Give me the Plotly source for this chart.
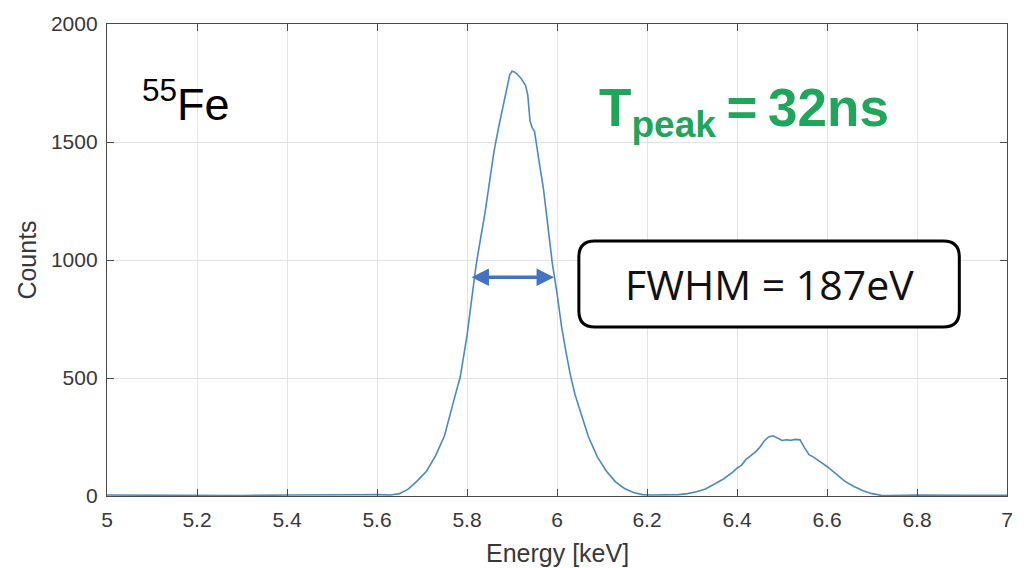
import plotly.graph_objects as go

# 55Fe spectrum: energy bins (keV) and counts
energy = [5.00, 5.10, 5.20, 5.30, 5.40, 5.50, 5.56, 5.60, 5.63, 5.65, 5.67, 5.69,
          5.71, 5.73, 5.75, 5.77, 5.785, 5.80, 5.81, 5.82, 5.83, 5.84, 5.85, 5.86,
          5.87, 5.88, 5.89, 5.895, 5.90, 5.905, 5.91, 5.92, 5.93, 5.935, 5.94, 5.945,
          5.95, 5.955, 5.96, 5.97, 5.98, 5.99, 6.00, 6.01, 6.02, 6.03, 6.04, 6.05,
          6.07, 6.09, 6.11, 6.13, 6.15, 6.17, 6.19, 6.21, 6.23, 6.25, 6.27, 6.29,
          6.31, 6.33, 6.35, 6.37, 6.39, 6.40, 6.41, 6.42, 6.43, 6.44, 6.45, 6.46,
          6.47, 6.48, 6.49, 6.50, 6.51, 6.52, 6.53, 6.54, 6.55, 6.56, 6.57, 6.58,
          6.59, 6.60, 6.62, 6.64, 6.66, 6.68, 6.70, 6.72, 6.74, 6.80, 6.90, 7.00]
counts = [4, 3, 5, 2, 4, 3, 5, 6, 4, 10, 30, 65,
          105, 170, 255, 400, 505, 680, 840, 975, 1090, 1200, 1330, 1460,
          1560, 1650, 1750, 1785, 1800, 1797, 1790, 1770, 1740, 1700, 1590, 1560,
          1545, 1470, 1420, 1300, 1130, 980, 860, 720, 610, 510, 430, 370,
          250, 165, 105, 60, 32, 15, 6, 4, 5, 3, 6, 10,
          18, 30, 50, 72, 100, 118, 130, 155, 170, 185, 205, 232,
          250, 255, 246, 235, 238, 236, 240, 238, 205, 175, 165, 150,
          138, 125, 95, 62, 40, 22, 10, 3, 2, 4, 3, 3]

x_ticks = [5, 5.2, 5.4, 5.6, 5.8, 6, 6.2, 6.4, 6.6, 6.8, 7]
x_tick_labels = ["5", "5.2", "5.4", "5.6", "5.8", "6", "6.2", "6.4", "6.6", "6.8", "7"]
y_ticks = [0, 500, 1000, 1500, 2000]

fwhm_kev = 0.187
peak_energy = energy[counts.index(max(counts))]
half_max = max(counts) / 2

AXIS_COLOR = "#4a4a4a"
GRID_COLOR = "#e3e3e3"
TEXT_COLOR = "#383838"
FONT = "Liberation Sans, Arial, sans-serif"

fig = go.Figure()
fig.add_trace(go.Scatter(
    x=energy, y=counts, mode="lines",
    line=dict(color="#4a8ac2", width=1.6),
    showlegend=False, hoverinfo="skip",
))

axis_common = dict(
    showline=True, linecolor=AXIS_COLOR, linewidth=1.4, mirror="ticks",
    ticks="inside", ticklen=7, tickcolor=AXIS_COLOR, tickwidth=1.4,
    showgrid=True, gridcolor=GRID_COLOR, gridwidth=1, zeroline=False,
    tickfont=dict(family=FONT, size=21, color=TEXT_COLOR),
)

fig.update_xaxes(
    range=[5, 7], tickvals=x_ticks, ticktext=x_tick_labels, ticklabelstandoff=5,
    **axis_common,
)
fig.update_yaxes(
    range=[0, 2000], tickvals=y_ticks, ticklabelstandoff=4,
    title=dict(text="Counts", font=dict(family=FONT, size=25, color=TEXT_COLOR), standoff=7),
    **axis_common,
)

# x-axis title placed below the tick labels
fig.add_annotation(
    x=0.5, y=(496 - 553) / 472, xref="paper", yref="paper",
    text="Energy [keV]", showarrow=False,
    font=dict(family=FONT, size=25, color=TEXT_COLOR),
    xanchor="center", yanchor="middle",
)

# FWHM double arrow centred on the main peak
fig.add_annotation(
    x=peak_energy + fwhm_kev / 2, y=half_max * 1.03, ax=peak_energy - fwhm_kev / 2, ay=half_max * 1.03,
    xref="x", yref="y", axref="x", ayref="y",
    showarrow=True, arrowhead=2, arrowside="end+start", arrowsize=1.0,
    arrowwidth=3.5, arrowcolor="#4472c4", text="",
)

# Rounded box around the FWHM label (paper coordinates)
x0, x1 = (582 - 107) / 906, (965 - 107) / 906
y0, y1 = (496 - 327) / 472, (496 - 241) / 472
rx, ry = 16 / 906, 16 / 472
path = (f"M {x0 + rx},{y0} L {x1 - rx},{y0} Q {x1},{y0} {x1},{y0 + ry} "
        f"L {x1},{y1 - ry} Q {x1},{y1} {x1 - rx},{y1} "
        f"L {x0 + rx},{y1} Q {x0},{y1} {x0},{y1 - ry} "
        f"L {x0},{y0 + ry} Q {x0},{y0} {x0 + rx},{y0} Z")
fig.add_shape(type="path", path=path, xref="paper", yref="paper",
              line=dict(color="black", width=3), fillcolor="white", layer="above")

fig.add_annotation(
    x=(x0 + x1) / 2, y=(y0 + y1) / 2, xref="paper", yref="paper",
    text="FWHM = 187eV", showarrow=False,
    font=dict(family="Open Sans, sans-serif", size=41, color="#111111"),
    xanchor="center", yanchor="middle",
)

fig.add_annotation(
    x=(140 - 107) / 906, y=(496 - 101) / 472, xref="paper", yref="paper",
    text="<sup>55</sup>Fe", showarrow=False,
    font=dict(family=FONT, size=45, color="black"),
    xanchor="left", yanchor="middle",
)

fig.add_annotation(
    x=(600 - 107) / 906, y=(496 - 112) / 472, xref="paper", yref="paper",
    text="<b>T<sub>peak</sub>\u2009=\u200932ns</b>", showarrow=False,
    font=dict(family=FONT, size=53, color="#1fa65a"),
    xanchor="left", yanchor="middle",
)

fig.update_layout(
    width=1024, height=568,
    margin=dict(l=107, r=11, t=24, b=72),
    paper_bgcolor="white", plot_bgcolor="white",
)

fig.write_html("out.html")
